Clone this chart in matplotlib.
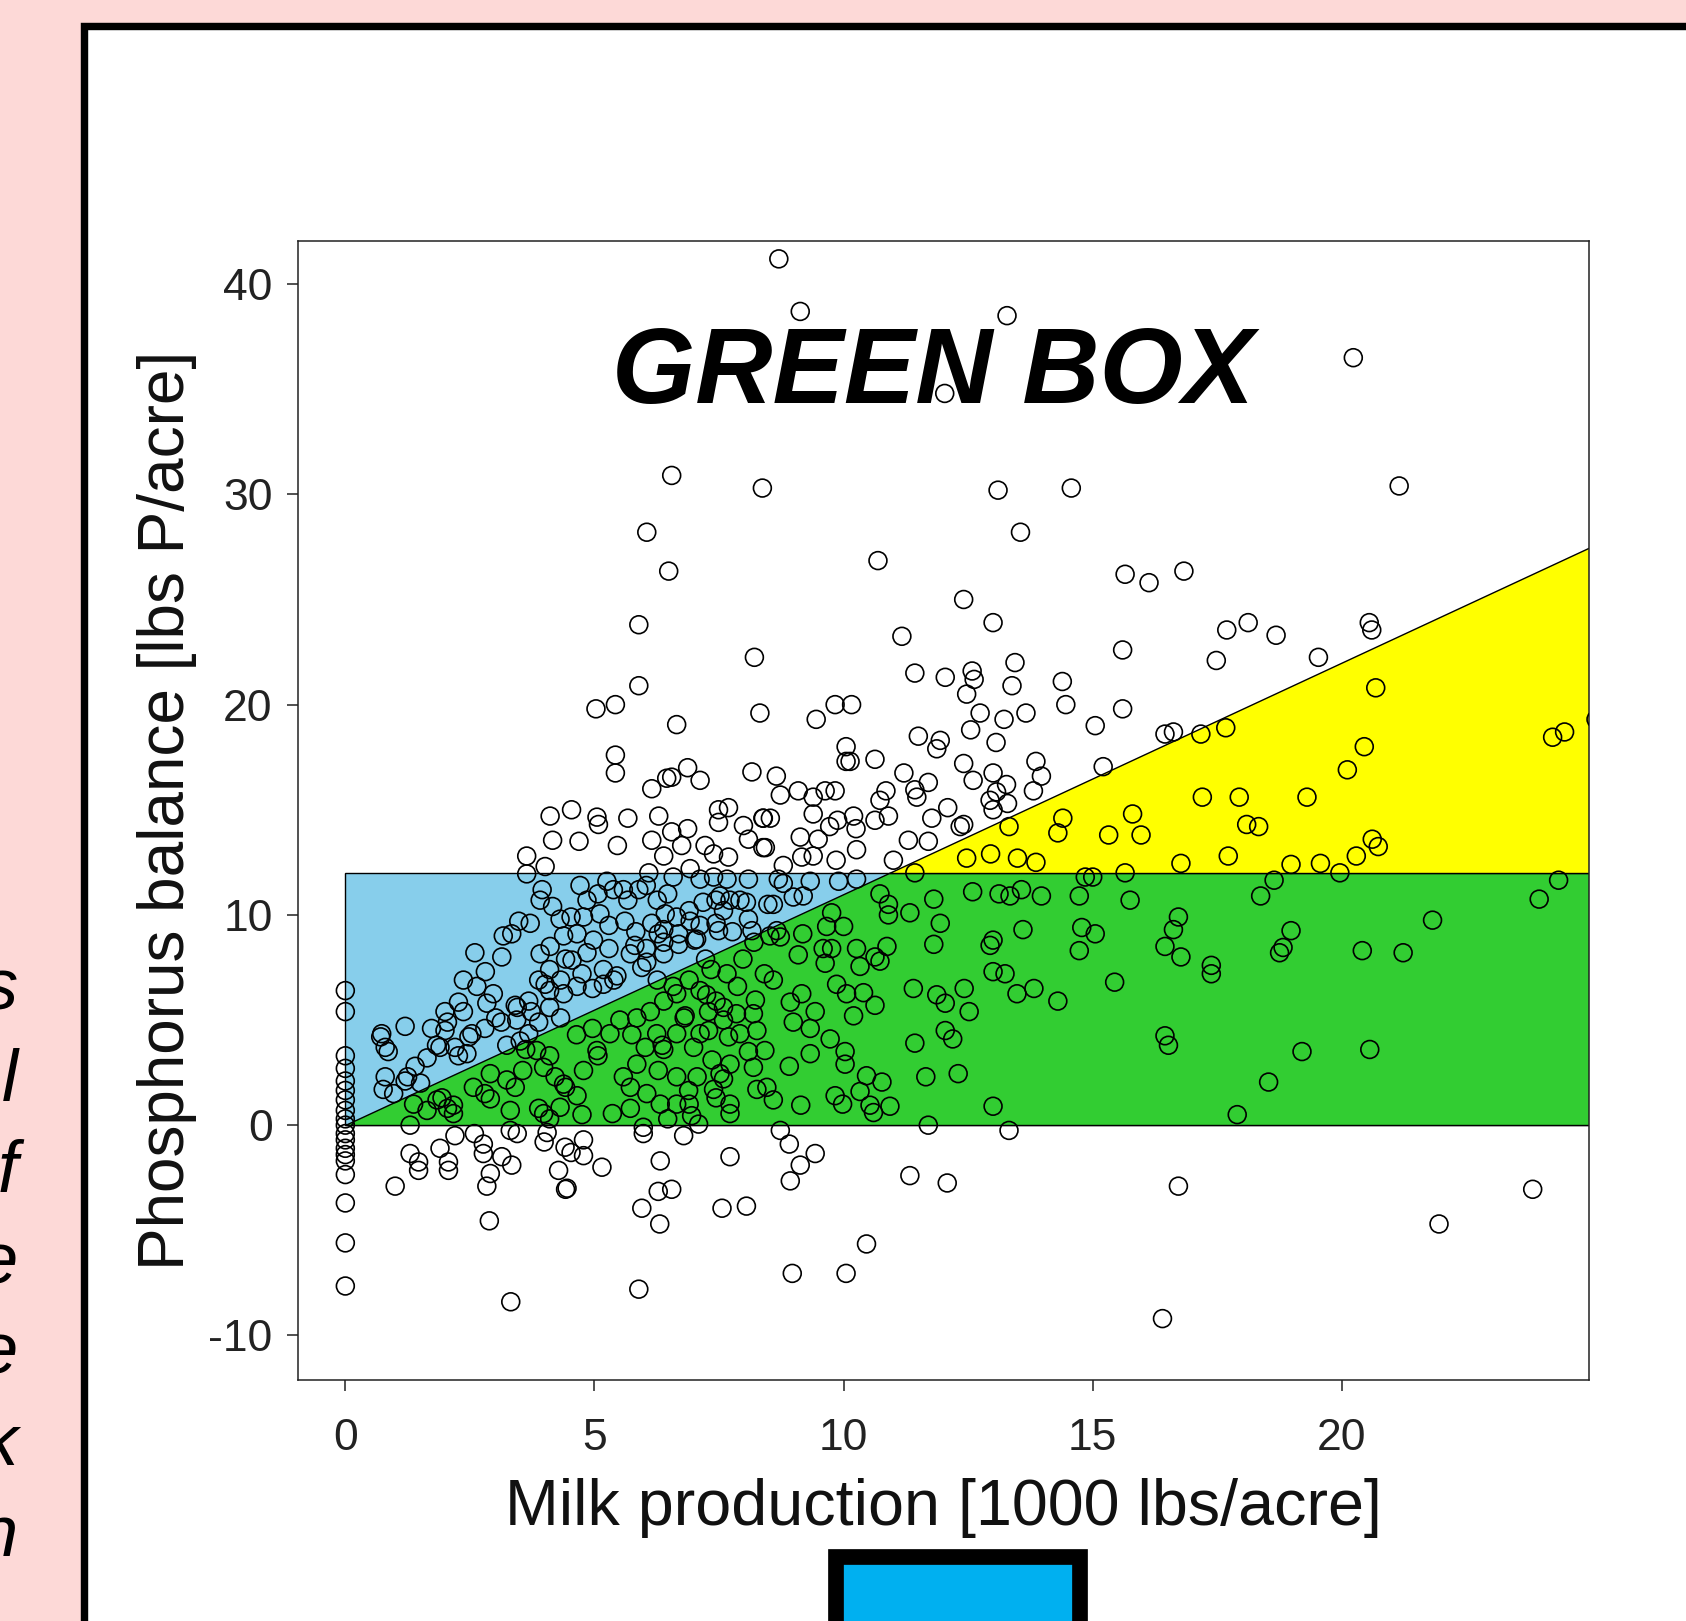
import matplotlib
matplotlib.use("Agg")
import matplotlib.pyplot as plt
from matplotlib.patches import Rectangle, Polygon
import numpy as np

plt.rcParams['font.family'] = ['Liberation Sans', 'DejaVu Sans']
plt.rcParams['axes.unicode_minus'] = False

# ---------------- data ----------------
x_ticks = [0, 5, 10, 15, 20]
y_ticks = [-10, 0, 10, 20, 30, 40]
x_label = "Milk production [1000 lbs/acre]"
y_label = "Phosphorus balance [lbs P/acre]"
title_text = "GREEN BOX"
side_letters = ["s", "l", "f", "e", "e", "k", "n"]

box_top = 12.0      # upper edge of blue / green boxes
line_slope = 1.1    # slope of the diagonal boundary
region_right = 30.0 # boxes continue past the plot edge

# (milk, phosphorus) pairs, grouped by area
pts_upper = [(8.7,41.2),(9.13,38.7),(13.28,38.5),(12.03,34.8),(20.23,36.5),(6.55,30.9),(8.37,30.3),
    (13.1,30.2),(14.57,30.3),(21.15,30.4),(6.05,28.2),(13.55,28.2),(6.49,26.35),(10.69,26.85),
    (15.65,26.2),(16.13,25.8),(16.83,26.35),(5.89,23.8),(12.41,25.0),(13.0,23.9),(11.17,23.25),
    (17.69,23.55),(18.12,23.9),(18.68,23.3),(20.55,23.9),(20.6,23.55),(17.48,22.1),(15.6,22.6),
    (19.53,22.25),(8.21,22.25),(13.44,22.0),(5.89,20.9),(11.43,21.5),(12.04,21.3),(12.58,21.6),
    (12.62,21.2),(13.38,20.9),(14.39,21.1),(20.68,20.8)]

pts_left_white = [(5.03,19.8),(5.42,20.0),(6.65,19.05),(5.42,17.6),(5.42,16.75),(6.15,16.0),(6.45,16.5),
    (6.55,16.55),(6.87,17.0),(7.12,16.4),(8.16,16.8),(4.11,14.7),(4.54,15.0),(5.05,14.65),(5.08,14.3),
    (5.67,14.6),(6.29,14.7),(4.16,13.55),(4.69,13.5),(5.46,13.3),(6.15,13.55),(6.55,13.95),(6.87,14.1),
    (6.75,13.3),(6.39,12.8),(7.22,13.3),(7.49,15.0),(7.69,15.1),(7.49,14.4),(7.99,14.25),(8.09,13.6),
    (8.38,13.2),(8.38,14.6),(7.39,12.9),(7.69,12.75),(6.92,12.2),(3.64,12.8),(3.64,11.95),(4.01,12.3)]

pts_left_blue = [(0.73,4.35),(0.8,3.7),(1.2,4.7),(0.8,2.3),(1.2,2.1),(1.64,3.2),(2.0,4.5),(2.0,5.4),
    (2.27,5.85),(2.6,8.2),(2.81,7.3),(2.64,6.6),(2.97,6.25),(2.84,5.8),(2.2,3.7),(2.54,4.35),(2.44,3.4),
    (1.9,3.7),(3.14,8.0),(3.17,9.0),(3.34,9.1),(3.48,9.7),(3.71,9.6),(3.91,10.7),(4.31,9.8),(4.11,8.5),
    (3.91,8.15),(4.71,11.4),(4.85,10.7),(5.11,10.05),(4.78,9.9),(4.65,9.1),(4.98,8.8),(4.55,7.85),
    (4.01,6.7),(3.68,5.9),(3.88,6.9),(3.41,5.7),(4.38,6.25),(4.65,6.6),(3.44,5.0),(3.68,4.35),
    (5.25,11.6),(5.38,11.2),(5.58,11.2),(5.18,6.7),(5.45,7.1),(5.72,8.15),(5.81,8.55),(6.05,7.75),
    (6.28,9.1),(6.42,10.05),(6.65,9.9),(6.92,9.7),(6.39,9.3),(6.69,9.1),(7.39,11.8),(7.52,10.9),
    (7.72,10.7),(7.92,10.7),(7.59,10.2),(8.09,9.8),(8.16,9.25),(7.05,8.85),(7.49,9.25),(6.39,8.7),
    (5.95,7.5),(6.39,8.15),(5.89,11.2),(6.04,11.4),(6.26,10.7),(6.47,11.0),(6.9,10.2),(7.18,10.6),
    (7.44,10.7),(8.05,10.6),(8.48,10.5),(8.69,11.7),(8.09,11.7),(7.66,11.7),(7.12,11.7),(6.58,11.8),
    (6.09,12.0),(5.29,9.5),(5.61,9.7),(5.83,9.2),(6.15,9.6),(7.12,9.5),(7.44,9.6),(7.77,9.2),(5.29,8.4),
    (4.85,8.2),(4.42,7.9),(4.1,7.4),(4.32,6.9),(4.75,7.2),(5.18,7.4),(6.04,8.4),(6.69,8.6),(7.01,8.8),
    (5.39,6.9),(4.96,6.5),(4.1,6.4),(3.45,5.6),(3.73,5.4),(4.1,5.6),(3.02,5.1),(2.37,5.4),(1.73,4.6),
    (0.71,4.2),(0.86,3.5),(1.4,2.8),(1.83,3.8),(2.48,4.2),(2.8,4.6),(3.13,4.9),(1.25,2.3),(0.76,1.7),
    (0.97,1.5),(1.51,2.0),(2.27,3.3),(3.24,3.8),(3.88,4.9),(4.32,5.1),(2.37,6.9),(3.95,11.2),(4.16,10.4),
    (4.53,9.9),(4.38,9.0),(5.07,11.0),(5.67,10.7),(2.05,4.9)]

pts_left_green = [(5.51,5.0),(6.12,5.4),(6.39,5.9),(6.65,6.25),(7.25,6.2),(7.29,5.4),(7.59,5.0),(7.12,4.35),
    (6.99,3.7),(7.36,3.1),(7.69,4.2),(8.19,5.3),(8.26,4.5),(8.09,3.5),(8.42,3.55),(7.72,2.9),(7.59,2.2),
    (7.39,1.7),(7.72,1.0),(7.72,0.55),(8.26,1.7),(7.06,2.3),(6.65,2.3),(6.89,1.65),(6.28,2.6),(5.85,2.9),
    (5.58,2.3),(5.72,1.8),(6.05,1.5),(6.32,1.0),(6.65,1.0),(6.95,0.45),(5.36,0.55),(5.75,4.3),(6.02,3.7),
    (5.85,5.1),(5.31,4.35),(5.05,3.55),(4.78,2.6),(4.38,1.95),(4.65,1.4),(4.31,0.85),(3.98,0.55),
    (3.31,0.7),(3.24,2.15),(2.91,2.45),(2.91,1.25),(2.57,1.8),(3.98,2.75),(3.84,3.55),(3.51,4.0),
    (2.17,0.95),(2.17,0.55),(1.84,1.2),(1.64,0.7),(1.37,1.0),(6.82,5.2),(7.29,4.5),(7.92,4.35),
    (7.52,2.45),(8.19,2.75),(7.85,5.3),(8.23,5.95),(7.59,5.6),(6.25,4.35),(6.65,4.35),(6.39,3.6),
    (2.8,1.5),(1.94,1.3),(2.05,0.8),(3.41,1.8),(3.56,2.6),(3.62,3.6),(4.1,3.3),(4.21,2.3),(4.42,1.8),
    (5.07,3.3),(4.64,4.3),(4.96,4.6),(6.36,3.8),(6.8,5.1),(7.34,7.4),(7.66,7.2),(7.87,6.6),(7.44,5.9),
    (7.12,6.4),(6.9,6.9),(6.26,6.9),(6.58,6.6),(7.23,7.9),(7.98,7.9),(8.2,8.7),(8.52,9.0),(8.41,7.2),
    (4.75,0.5),(3.88,0.8),(4.1,0.3),(5.72,0.8),(6.47,0.3),(6.9,1.0),(7.44,1.3)]

pts_left_below = [(1.3,0.0),(1.3,-1.35),(1.47,-1.75),(1.47,-2.15),(1.9,-1.1),(2.07,-1.75),(2.07,-2.15),
    (2.2,-0.5),(1.0,-2.9),(2.77,-0.9),(2.77,-1.35),(2.91,-2.3),(2.84,-2.9),(3.14,-1.5),(3.34,-1.9),
    (3.31,-0.25),(4.05,-0.35),(4.41,-1.05),(4.78,-0.7),(4.78,-1.45),(4.28,-2.15),(4.45,-3.0),(5.15,-2.0),
    (5.98,-0.1),(5.98,-0.4),(6.32,-1.7),(6.79,-0.5),(7.09,0.05),(7.72,-1.5),(2.89,-4.55),(3.32,-8.4),
    (4.42,-3.05),(5.95,-3.95),(6.31,-4.7),(6.28,-3.15),(6.55,-3.05),(7.56,-3.95),(8.05,-3.85),(5.89,-7.8),
    (2.59,-0.4),(3.45,-0.4),(3.99,-0.8),(4.53,-1.3)]

zero_column_y = [6.4,5.4,3.3,2.7,2.1,1.65,1.2,0.7,0.3,0.0,-0.4,-0.7,-1.1,-1.4,-1.7,-2.35,-3.7,-5.6,-7.65]

pts_mid_white = [(9.45,19.3),(9.83,20.0),(10.16,20.0),(11.5,18.5),(11.94,18.3),(11.87,17.9),(10.05,18.0),
    (10.05,17.3),(10.13,17.3),(10.63,17.4),(8.65,16.6),(8.73,15.7),(9.09,15.9),(9.39,15.6),(9.63,15.9),
    (9.83,15.9),(9.39,14.8),(9.88,14.5),(10.2,14.7),(10.63,14.5),(10.9,14.7),(10.85,15.9),(10.73,15.45),
    (11.21,16.75),(11.43,15.95),(11.7,16.3),(11.47,15.6),(11.77,14.6),(12.41,17.2),(12.6,16.4),(13.0,16.75),
    (13.07,15.85),(13.27,16.2),(13.29,15.3),(12.94,15.45),(13.86,17.3),(13.97,16.6),(13.81,15.9),
    (13.06,18.2),(13.22,19.3),(13.66,19.6),(14.46,20.0),(15.05,19.0),(15.6,19.8),(16.45,18.6),(16.62,18.7),
    (15.21,17.05),(12.34,14.2),(13.0,15.0),(11.3,13.55),(11.7,13.5),(11.0,12.6),(10.26,13.1),(9.85,12.6),
    (9.39,12.8),(9.13,13.7),(8.43,13.2),(8.79,12.35),(9.16,12.75),(9.49,13.6),(9.72,14.2),(10.25,14.1),
    (8.39,14.6),(8.53,14.6),(8.32,19.6),(12.74,19.6),(12.55,18.8),(12.47,20.5),(12.41,14.3),(12.09,15.1)]

pts_mid_yellow = [(12.47,12.7),(12.95,12.9),(13.49,12.7),(13.86,12.5),(13.32,14.2),(14.4,14.6),(14.3,13.9),
    (15.32,13.8),(15.8,14.8),(15.97,13.8),(16.77,12.45),(15.65,12.0),(17.2,15.6),(11.43,12.0),(15.0,11.8),
    (14.85,11.8)]

pts_mid_blue = [(8.79,11.5),(8.99,10.85),(9.19,10.9),(8.59,10.5),(9.33,11.6),(9.9,11.6),(10.26,11.7),
    (8.66,9.25),(8.73,8.95)]

pts_mid_green = [(10.73,11.0),(10.9,10.5),(10.9,10.0),(11.33,10.1),(11.81,10.75),(11.94,9.6),(11.81,8.6),
    (12.59,11.1),(13.12,11.0),(13.34,10.9),(13.57,11.2),(13.97,10.9),(13.6,9.3),(13.0,8.8),(12.94,8.55),
    (14.73,10.9),(15.75,10.7),(14.78,9.4),(15.05,9.1),(14.73,8.3),(16.72,9.9),(16.62,9.3),(16.45,8.5),
    (16.77,8.0),(13.0,7.3),(13.24,7.2),(11.4,6.5),(11.87,6.2),(12.04,5.8),(12.42,6.5),(12.52,5.4),
    (13.48,6.25),(13.82,6.5),(14.3,5.9),(15.44,6.8),(12.04,4.5),(12.19,4.1),(11.43,3.9),(11.65,2.3),
    (12.3,2.45),(13.0,0.9),(16.45,4.25),(16.52,3.8),(11.7,0.0),(13.32,-0.25),(9.76,10.1),(9.66,9.45),
    (10.0,9.45),(9.18,9.1),(9.09,8.1),(9.59,8.4),(9.76,8.4),(9.63,7.7),(10.26,8.4),(10.33,7.55),(10.87,8.5),
    (10.73,7.8),(10.63,8.0),(8.59,6.9),(9.16,6.25),(8.93,5.85),(9.86,6.7),(10.06,6.25),(10.4,6.3),
    (10.63,5.7),(10.2,5.2),(9.43,5.4),(8.99,4.9),(9.33,4.6),(9.73,4.1),(9.33,3.4),(10.03,3.5),(10.03,2.9),
    (8.91,2.8),(8.46,1.8),(8.59,1.2),(9.14,0.95),(9.83,1.4),(9.98,1.0),(10.46,2.35),(10.77,2.05),
    (10.33,1.6),(10.53,0.95),(10.6,0.6),(10.93,0.9)]

pts_mid_below = [(8.73,-0.25),(8.91,-0.9),(9.13,-1.9),(9.43,-1.35),(8.93,-2.65),(11.33,-2.4),(12.08,-2.75),
    (16.72,-2.9),(8.97,-7.05),(10.05,-7.05),(10.46,-5.65),(16.4,-9.2),(21.95,-4.7),(23.83,-3.05)]

pts_right = [(17.67,18.9),(17.17,18.6),(20.45,18.0),(20.11,16.9),(17.94,15.6),(19.3,15.6),(18.09,14.3),
    (18.33,14.2),(17.72,12.8),(18.98,12.4),(19.57,12.45),(19.96,12.0),(20.29,12.8),(20.61,13.6),
    (20.73,13.25),(24.23,18.45),(24.47,18.7),(24.35,11.65),(23.96,10.75),(21.82,9.75),(18.64,11.65),
    (18.37,10.9),(18.98,9.25),(18.82,8.45),(18.75,8.2),(20.41,8.3),(21.23,8.2),(17.38,7.6),(17.38,7.2),
    (19.2,3.5),(20.56,3.6),(18.53,2.05),(17.9,0.5),(25.1,19.3)]

# ---------------- figure ----------------
W, H = 1686, 1621
fig = plt.figure(figsize=(W / 100, H / 100), dpi=100, facecolor='#FDD9D7')

# slide background layer (pixel coordinates)
bg = fig.add_axes([0, 0, 1, 1], zorder=-5)
bg.set_xlim(0, W)
bg.set_ylim(H, 0)
bg.axis('off')
bg.add_patch(Rectangle((84.3, 26.3), 2000, 2000, facecolor='white', edgecolor='black',
                       lw=7.4 * 0.72, joinstyle='miter'))
bg.add_patch(Rectangle((836.2, 1557.2), 243.5, 200, facecolor='#00B0F0', edgecolor='black',
                       lw=15.7 * 0.72, joinstyle='miter'))
for i, letter in enumerate(side_letters):
    bg.text(18, 1010 + 91 * i, letter, ha='right', va='baseline', fontsize=52,
            style='italic', color='black')

# main plot
ax = fig.add_axes([298 / W, 1 - 1380 / H, 1291 / W, 1139 / H])
ax.set_facecolor('white')
ax.set_xlim(-0.95, 24.96)
ax.set_ylim(-12.12, 42.05)

x_cross = box_top / line_slope
edge_kw = dict(edgecolor='black', linewidth=1.0, zorder=1)
ax.add_patch(Polygon([(0, 0), (region_right, 0), (region_right, box_top), (0, box_top)],
                     closed=True, facecolor='#87CEEB', **edge_kw))
ax.add_patch(Polygon([(0, 0), (region_right, 0), (region_right, box_top), (x_cross, box_top)],
                     closed=True, facecolor='#32CD32', **edge_kw))
ax.add_patch(Polygon([(x_cross, box_top), (region_right, box_top),
                      (region_right, line_slope * region_right)],
                     closed=True, facecolor='#FFFF00', **edge_kw))

groups = [pts_upper, pts_left_white, pts_left_blue, pts_left_green, pts_left_below,
          [(0.0, v) for v in zero_column_y], pts_mid_white, pts_mid_yellow, pts_mid_blue,
          pts_mid_green, pts_mid_below, pts_right]
pts = np.array([p for g in groups for p in g])
ax.scatter(pts[:, 0], pts[:, 1], s=165, facecolors='none', edgecolors='black',
           linewidths=1.2, zorder=3)

ax.set_xticks(x_ticks)
ax.set_yticks(y_ticks)
ax.tick_params(axis='both', length=8.2, width=1.1, color='#222222', labelsize=32,
               labelcolor='#222222', direction='out')
ax.tick_params(axis='x', pad=19)
ax.tick_params(axis='y', pad=10)
for sp in ax.spines.values():
    sp.set_linewidth(1.1)
    sp.set_color('#222222')

ax.set_xlabel(x_label, fontsize=46.5, color='#111111', va='baseline')
ax.xaxis.set_label_coords(0.5, (1380 - 1525) / 1139)
ax.set_ylabel(y_label, fontsize=46, color='#111111', va='center')
ax.yaxis.set_label_coords((167 - 298) / 1291, 0.5)

fig.text(933 / W, 1 - 403 / H, title_text, ha='center', va='baseline', fontsize=77,
         fontweight='bold', style='italic', color='black', zorder=10)

fig.savefig('out.png', dpi=100, facecolor=fig.get_facecolor())
